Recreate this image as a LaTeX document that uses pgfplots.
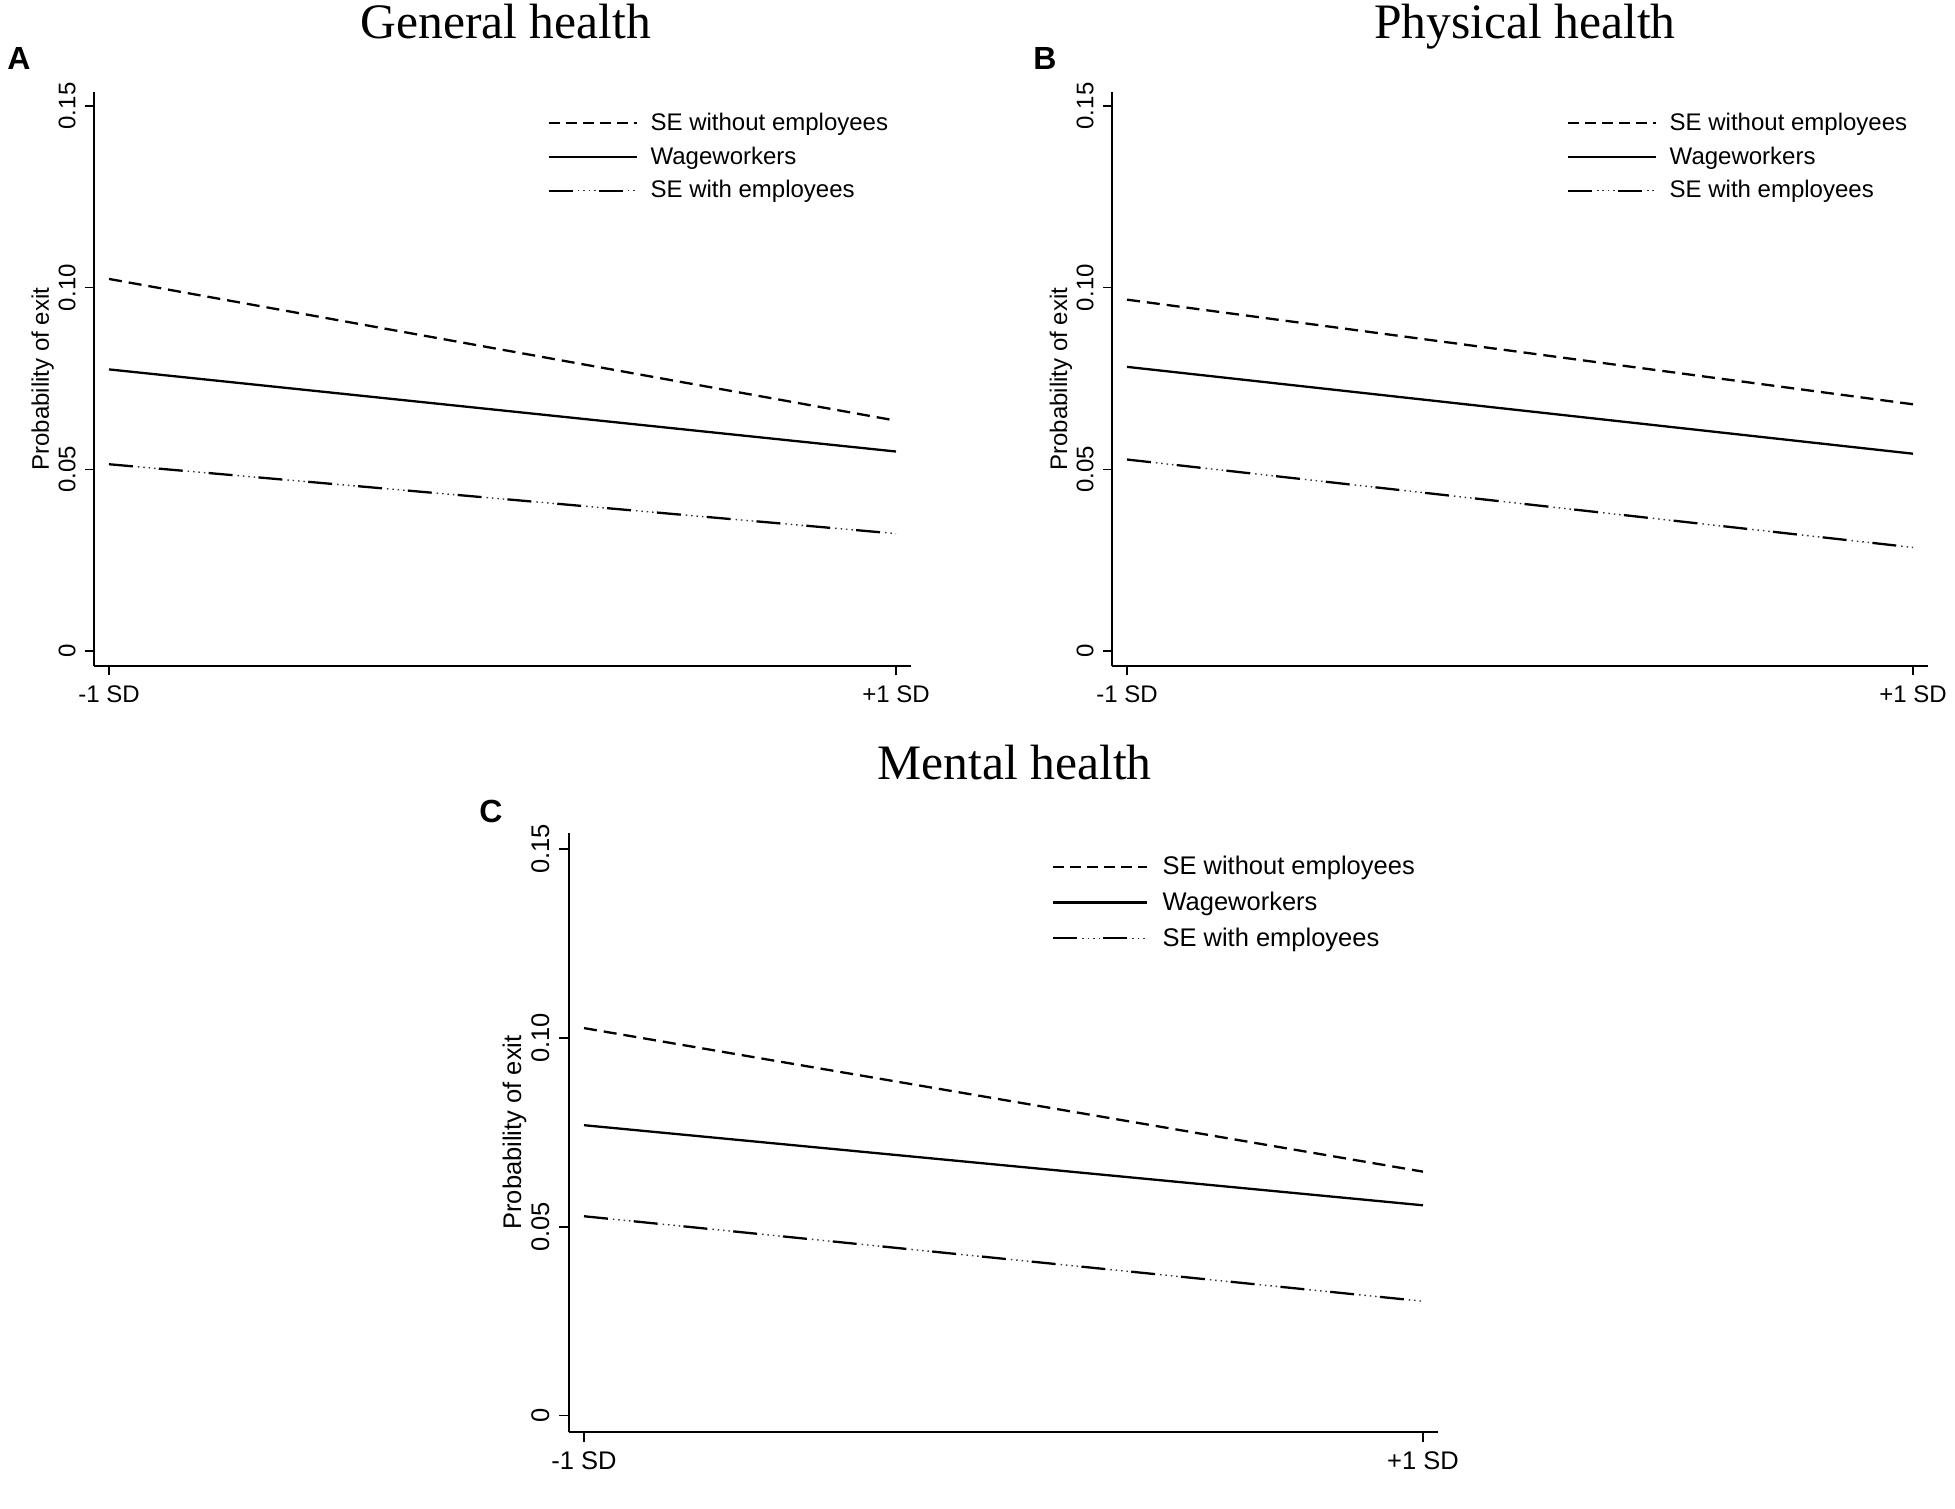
\documentclass[border=0pt]{standalone}
\usepackage{fontspec}
\setmainfont{Liberation Sans}
\newfontfamily\titlefont{Liberation Serif}
\usepackage{pgfplots}
\pgfplotsset{compat=1.18}

\pgfplotstableread{
x y
0 0.1024
1 0.0634
}\Awo
\pgfplotstableread{
x y
0 0.0775
1 0.0549
}\Awage
\pgfplotstableread{
x y
0 0.0514
1 0.0323
}\Awith
\pgfplotstableread{
x y
0 0.0967
1 0.0679
}\Bwo
\pgfplotstableread{
x y
0 0.0782
1 0.0543
}\Bwage
\pgfplotstableread{
x y
0 0.0527
1 0.0285
}\Bwith
\pgfplotstableread{
x y
0 0.1026
1 0.0646
}\Cwo
\pgfplotstableread{
x y
0 0.0769
1 0.0557
}\Cwage
\pgfplotstableread{
x y
0 0.0528
1 0.0303
}\Cwith

\tikzset{
 dashline/.style={black, line width=1.15pt, dash pattern=on 6.5pt off 3.5pt},
 dashkey/.style={black, line width=1.15pt, dash pattern=on 5.5pt off 3pt},
 solidline/.style={black, line width=1.15pt},
 dotdash/.style={black, line width=1.15pt, dash pattern=on 12pt off 13pt},
 dots/.style={black!80, line width=0.7pt, dash pattern=on 0pt off 14.5pt on 0.75pt off 1.95pt on 0.75pt off 1.95pt on 0.75pt off 1.95pt on 0.75pt off 1.65pt},
}

\pgfplotsset{
 every axis title shift=0pt,
 stata/.style={
  scale only axis, axis lines*=left,
  axis line style={line width=0.75pt, black},
  tick align=outside, major tick length=4.5pt,
  tick style={line width=0.75pt, black},
  xtick={0,1}, xticklabels={-1 SD,+1 SD},
  ytick={0,0.05,0.1,0.15}, yticklabels={0,0.05,0.10,0.15},
  /pgf/number format/assume math mode=true,
  yticklabel style={rotate=90, anchor=south, inner sep=0pt},
  xticklabel style={anchor=north, inner sep=0pt},
  yticklabel shift=4.5pt, xticklabel shift=5.25pt,
  ylabel={Probability of exit},
  legend style={draw=none, fill=none, anchor=north west, inner sep=0pt,
    row sep=6.75pt, column sep=6.25pt, nodes={inner sep=0pt}},
  legend cell align=left,
  clip=false,
  ymin=-0.00413, ymax=0.15385,
  font=\fontsize{12}{14}\selectfont,
  tick label style={font=\fontsize{12}{14}\selectfont},
 },
}

\begin{document}
\begin{tikzpicture}
% Panel A
\begin{axis}[stata, at={(47pt,-333pt)}, anchor=south west,
  width=408.5pt, height=287pt,
  xmin=-0.01906, xmax=1.01906,
  every axis y label/.style={at={(axis description cs:-0.0551,0.5)}, rotate=90, anchor=base},
  title={General health},
  title style={at={(axis description cs:0.504,1.094)}, anchor=base, inner sep=0pt, font=\titlefont\fontsize{24.8}{28}\selectfont},
  legend style={at={(axis description cs:0.555,0.9646)}},
]
\addplot[dashline, legend image code/.code={\draw[dashkey] (0pt,0pt) -- (44pt,0pt);}] table {\Awo};
\addlegendentry{SE without employees}
\addplot[solidline, legend image code/.code={\draw[solidline] (0pt,0pt) -- (44pt,0pt);}] table {\Awage};
\addlegendentry{Wageworkers}
\addplot[dotdash, legend image code/.code={\draw[dotdash] (0pt,0pt) -- (44pt,0pt); \draw[dots] (0pt,0pt) -- (44pt,0pt);}] table {\Awith};
\addlegendentry{SE with employees}
\addplot[dots, forget plot] table {\Awith};
\end{axis}
% Panel B
\begin{axis}[stata, at={(556pt,-333pt)}, anchor=south west,
  width=408pt, height=287pt,
  xmin=-0.0191, xmax=1.0191,
  every axis y label/.style={at={(axis description cs:-0.0551,0.5)}, rotate=90, anchor=base},
  title={Physical health},
  title style={at={(axis description cs:0.506,1.094)}, anchor=base, inner sep=0pt, font=\titlefont\fontsize{24.8}{28}\selectfont},
  legend style={at={(axis description cs:0.557,0.9646)}},
]
\addplot[dashline, legend image code/.code={\draw[dashkey] (0pt,0pt) -- (44pt,0pt);}] table {\Bwo};
\addlegendentry{SE without employees}
\addplot[solidline, legend image code/.code={\draw[solidline] (0pt,0pt) -- (44pt,0pt);}] table {\Bwage};
\addlegendentry{Wageworkers}
\addplot[dotdash, legend image code/.code={\draw[dotdash] (0pt,0pt) -- (44pt,0pt); \draw[dots] (0pt,0pt) -- (44pt,0pt);}] table {\Bwith};
\addlegendentry{SE with employees}
\addplot[dots, forget plot] table {\Bwith};
\end{axis}
% Panel C
\begin{axis}[stata, at={(284.5pt,-716pt)}, anchor=south west,
  width=434.5pt, height=299.5pt,
  xmin=-0.01788, xmax=1.01788,
  ymin=-0.00431, ymax=0.15424,
  major tick length=4.8pt,
  yticklabel shift=4.8pt, xticklabel shift=5pt,
  font=\fontsize{12.75}{15}\selectfont,
  tick label style={font=\fontsize{12.75}{15}\selectfont},
  legend style={row sep=7.1pt, column sep=7pt},
  every axis y label/.style={at={(axis description cs:-0.0552,0.5)}, rotate=90, anchor=base},
  title={Mental health},
  title style={at={(axis description cs:0.5127,1.090)}, anchor=base, inner sep=0pt, font=\titlefont\fontsize{24.8}{28}\selectfont},
  legend style={at={(axis description cs:0.5556,0.962)}},
]
\addplot[dashline, legend image code/.code={\draw[dashkey] (0pt,0pt) -- (47pt,0pt);}] table {\Cwo};
\addlegendentry{SE without employees}
\addplot[solidline, legend image code/.code={\draw[solidline] (0pt,0pt) -- (47pt,0pt);}] table {\Cwage};
\addlegendentry{Wageworkers}
\addplot[dotdash, legend image code/.code={\draw[dotdash] (0pt,0pt) -- (47pt,0pt); \draw[dots] (0pt,0pt) -- (47pt,0pt);}] table {\Cwith};
\addlegendentry{SE with employees}
\addplot[dots, forget plot] table {\Cwith};
\end{axis}
\node[anchor=base west, inner sep=0pt, font=\bfseries\fontsize{16}{18}\selectfont] at (3.5pt,-35pt) {A};
\node[anchor=base west, inner sep=0pt, font=\bfseries\fontsize{16}{18}\selectfont] at (516.5pt,-34.75pt) {B};
\node[anchor=base west, inner sep=0pt, font=\bfseries\fontsize{16}{18}\selectfont] at (239.5pt,-411pt) {C};
\pgfresetboundingbox
\useasboundingbox (0,0) rectangle (977.5pt,-754.5pt);
\end{tikzpicture}
\end{document}
